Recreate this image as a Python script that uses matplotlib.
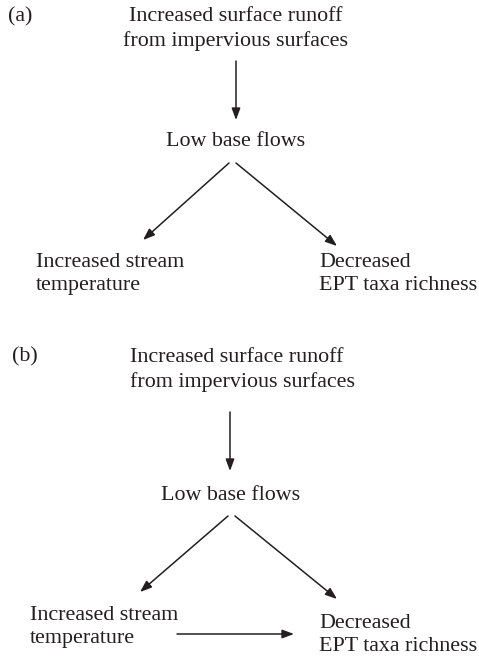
import matplotlib
matplotlib.use("Agg")
import matplotlib.pyplot as plt

plt.rcParams['font.family'] = ['Liberation Serif', 'DejaVu Serif']

# node texts
panel_labels = ["(a)", "(b)"]
runoff_label = "Increased surface runoff\nfrom impervious surfaces"
baseflow_label = "Low base flows"
temp_label = "Increased stream\ntemperature"
ept_label = "Decreased\nEPT taxa richness"

fig = plt.figure(figsize=(4.79, 6.57), dpi=100)
ax = fig.add_axes([0, 0, 1, 1])
ax.set_xlim(0, 479)
ax.set_ylim(657, 0)
ax.axis('off')

fs = 15.8
txt = dict(fontsize=fs, color='#231f20', linespacing=1.35)
arr = dict(arrowstyle='-|>,head_length=0.7,head_width=0.26', color='#231f20',
           lw=1.1, shrinkA=0, shrinkB=0)


def arrow(x0, y0, x1, y1):
    ax.annotate('', xy=(x1, y1), xytext=(x0, y0), arrowprops=arr)


# panel (a)
ax.text(8, 17, panel_labels[0], ha='left', va='center', **txt)
ax.text(236, 29, runoff_label, ha='center', va='center', **txt)
arrow(236, 61, 236, 120)
ax.text(236, 142, baseflow_label, ha='center', va='center', **txt)
arrow(229, 163, 143, 240)
arrow(236, 163, 337, 246)
ax.text(36, 274, temp_label, ha='left', va='center', **txt)
ax.text(319, 274, ept_label, ha='left', va='center', **txt)

# panel (b)
ax.text(12, 357, panel_labels[1], ha='left', va='center', **txt)
ax.text(130, 370, runoff_label, ha='left', va='center', **txt)
arrow(230, 412, 230, 471)
ax.text(231, 495, baseflow_label, ha='center', va='center', **txt)
arrow(228, 516, 140, 592)
arrow(235, 516, 337, 599)
ax.text(30, 627, temp_label, ha='left', va='center', **txt)
arrow(177, 634, 294, 634)
ax.text(319, 635, ept_label, ha='left', va='center', **txt)

fig.savefig('out.png', dpi=100, facecolor='white')
